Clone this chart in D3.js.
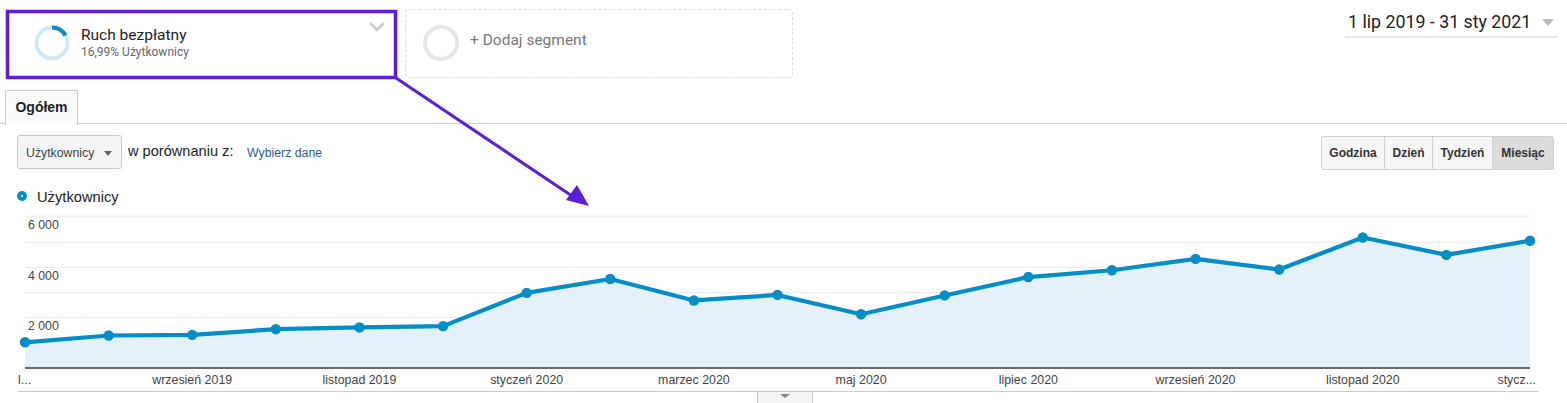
<!DOCTYPE html>
<html>
  <head>
    <meta charset="utf-8" />
    <style>
    body { margin: 0; background: #fff; }
    svg { display: block; }
    .ar { font-family: "Liberation Sans", Arial, sans-serif; }
    .rb { font-family: Roboto, "Noto Sans", sans-serif; }
    </style>
    <script src="https://cdn.jsdelivr.net/npm/d3@7"></script>
  </head>
  <body>
    <script>
    // months Jul 2019 .. Jan 2021
    var months = ["lipiec 2019", "sierpień 2019", "wrzesień 2019", "październik 2019", "listopad 2019",
      "grudzień 2019", "styczeń 2020", "luty 2020", "marzec 2020", "kwiecień 2020", "maj 2020",
      "czerwiec 2020", "lipiec 2020", "sierpień 2020", "wrzesień 2020", "październik 2020",
      "listopad 2020", "grudzień 2020", "styczeń 2021"];
    var users = [1000, 1270, 1295, 1520, 1590, 1640, 2960, 3510, 2660, 2880, 2115, 2860,
      3590, 3860, 4310, 3890, 5160, 4470, 5030];
    // label shown under every second month
    var xLabels = ["l...", "", "wrzesień 2019", "", "listopad 2019", "", "styczeń 2020", "",
      "marzec 2020", "", "maj 2020", "", "lipiec 2020", "", "wrzesień 2020", "",
      "listopad 2020", "", "stycz..."];
    var yTicks = [2000, 4000, 6000];
    var yGrid = [1000, 2000, 3000, 4000, 5000, 6000];
    var buttons = ["Godzina", "Dzień", "Tydzień", "Miesiąc"];

    var width = 1567, height = 403;
    var blue = "#058dc7";
    var purple = "#5a1fd6";

    var svg = d3.select("body").append("svg")
        .attr("width", width)
        .attr("height", height);

    // ---- segment boxes ----
    svg.append("rect").attr("x", 7.5).attr("y", 11.5).attr("width", 388).attr("height", 66)
        .attr("fill", "#fff").attr("stroke", purple).attr("stroke-width", 3.5);
    var arc = d3.arc().innerRadius(13.5).outerRadius(17.5);
    var donut = svg.append("g").attr("transform", "translate(52,43)");
    donut.append("path").attr("d", arc({startAngle: 0, endAngle: 2 * Math.PI})).attr("fill", "#cfe8f6");
    donut.append("path").attr("d", arc({startAngle: 0, endAngle: 2 * Math.PI * 0.1699})).attr("fill", blue);
    svg.append("text").attr("class", "rb").attr("x", 81).attr("y", 40)
        .attr("font-size", 15.5).attr("fill", "#222").text("Ruch bezpłatny");
    svg.append("text").attr("class", "rb").attr("x", 81).attr("y", 56)
        .attr("font-size", 12).attr("fill", "#666").text("16,99% Użytkownicy");
    svg.append("path").attr("d", "M370,23 L377,30 L384,23").attr("fill", "none")
        .attr("stroke", "#ccc").attr("stroke-width", 2.5);

    svg.append("rect").attr("x", 405.5).attr("y", 9.5).attr("width", 387).attr("height", 68).attr("rx", 3)
        .attr("fill", "none").attr("stroke", "#ddd").attr("stroke-dasharray", "3,2");
    svg.append("circle").attr("cx", 441).attr("cy", 43).attr("r", 16)
        .attr("fill", "none").attr("stroke", "#e6e6e6").attr("stroke-width", 4);
    svg.append("text").attr("class", "rb").attr("x", 470).attr("y", 45)
        .attr("font-size", 15.5).attr("fill", "#777").text("+ Dodaj segment");

    // ---- date range ----
    svg.append("text").attr("class", "rb").attr("x", 1348).attr("y", 28)
        .attr("font-size", 17.8).attr("fill", "#222").text("1 lip 2019 - 31 sty 2021");
    svg.append("path").attr("d", "M1542,19 L1554,19 L1548,26 Z").attr("fill", "#bbb");
    svg.append("line").attr("x1", 1345).attr("x2", 1558).attr("y1", 37).attr("y2", 37)
        .attr("stroke", "#e6e6e6").attr("stroke-width", 2);

    // ---- tab ----
    svg.append("line").attr("x1", 0).attr("x2", width).attr("y1", 123.5).attr("y2", 123.5)
        .attr("stroke", "#ccc");
    svg.append("rect").attr("x", 5.5).attr("y", 90.5).attr("width", 72).attr("height", 34)
        .attr("fill", "#fafafa").attr("stroke", "#ccc");
    svg.append("rect").attr("x", 6).attr("y", 122).attr("width", 71).attr("height", 3).attr("fill", "#fafafa");
    svg.append("text").attr("class", "ar").attr("x", 41.5).attr("y", 112).attr("text-anchor", "middle")
        .attr("font-size", 14).attr("font-weight", "bold").attr("fill", "#222").text("Ogółem");

    // ---- metric selector ----
    svg.append("rect").attr("x", 17.5).attr("y", 135.5).attr("width", 104).attr("height", 33).attr("rx", 2)
        .attr("fill", "#f5f5f5").attr("stroke", "#ccc");
    svg.append("text").attr("class", "ar").attr("x", 26).attr("y", 157)
        .attr("font-size", 12.3).attr("fill", "#444").text("Użytkownicy");
    svg.append("path").attr("d", "M104,151 L112,151 L108,156 Z").attr("fill", "#666");
    svg.append("text").attr("class", "ar").attr("x", 128).attr("y", 156)
        .attr("font-size", 14.6).attr("fill", "#222").text("w porównaniu z:");
    svg.append("text").attr("class", "ar").attr("x", 247).attr("y", 157)
        .attr("font-size", 12.3).attr("fill", "#1f5c99").text("Wybierz dane");

    // ---- granularity buttons ----
    var bx = [1321, 1384, 1432, 1492, 1553];
    buttons.forEach(function (b, i) {
      var sel = i === buttons.length - 1;
      svg.append("rect").attr("x", bx[i] + 0.5).attr("y", 136.5).attr("width", bx[i + 1] - bx[i]).attr("height", 33)
          .attr("rx", i === 0 || sel ? 2 : 0)
          .attr("fill", sel ? "#dcdcdc" : "#f6f6f6").attr("stroke", "#d0d0d0");
      svg.append("text").attr("class", "ar").attr("x", (bx[i] + bx[i + 1]) / 2 + 0.5).attr("y", 157)
          .attr("text-anchor", "middle").attr("font-size", 12).attr("font-weight", "bold")
          .attr("fill", "#333").text(b);
    });

    // ---- legend ----
    svg.append("circle").attr("cx", 22).attr("cy", 196).attr("r", 5).attr("fill", blue);
    svg.append("circle").attr("cx", 22).attr("cy", 196).attr("r", 1).attr("fill", "#fff");
    svg.append("text").attr("class", "ar").attr("x", 37).attr("y", 202)
        .attr("font-size", 14.7).attr("fill", "#222").text("Użytkownicy");

    // ---- chart ----
    var x = d3.scalePoint().domain(months).range([25, 1530]);
    var y = d3.scaleLinear().domain([0, 6000]).range([367.5, 216.3]);

    svg.append("g").selectAll("line").data(yGrid).join("line")
        .attr("x1", 25).attr("x2", 1530)
        .attr("y1", function (d) { return Math.round(y(d)) + 0.5; })
        .attr("y2", function (d) { return Math.round(y(d)) + 0.5; })
        .attr("stroke", function (d) { return d === 6000 ? "#f2f2f2" : "#ececec"; })
        .attr("stroke-width", function (d) { return d === 6000 ? 2 : 1; });

    var data = months.map(function (m, i) { return {m: m, v: users[i]}; });

    svg.append("path").datum(data)
        .attr("fill", "#e4f1f9")
        .attr("d", d3.area().x(function (d) { return x(d.m); })
          .y0(y(0)).y1(function (d) { return y(d.v); }));

    svg.append("g").selectAll("text").data(yTicks).join("text")
        .attr("class", "ar").attr("x", 28).attr("y", function (d) { return y(d) + 13; })
        .attr("font-size", 12.3).attr("fill", "#444")
        .text(function (d) { return d3.format(",")(d).replace(",", " "); });

    svg.append("line").attr("x1", 25).attr("x2", 1530).attr("y1", 368).attr("y2", 368)
        .attr("stroke", "#6b6b6b").attr("stroke-width", 2);

    svg.append("path").datum(data)
        .attr("fill", "none").attr("stroke", blue).attr("stroke-width", 4.2)
        .attr("stroke-linejoin", "round")
        .attr("d", d3.line().x(function (d) { return x(d.m); }).y(function (d) { return y(d.v); }));

    svg.append("g").selectAll("circle").data(data).join("circle")
        .attr("cx", function (d) { return x(d.m); })
        .attr("cy", function (d) { return y(d.v); })
        .attr("r", 5.2).attr("fill", blue);

    svg.append("g").selectAll("text").data(months).join("text")
        .attr("class", "ar")
        .attr("x", function (d, i) { return i === 0 ? 18 : (i === months.length - 1 ? 1536 : x(d)); })
        .attr("y", 384)
        .attr("text-anchor", function (d, i) { return i === 0 ? "start" : (i === months.length - 1 ? "end" : "middle"); })
        .attr("font-size", 12.4).attr("fill", "#444")
        .text(function (d, i) { return xLabels[i]; });

    svg.append("line").attr("x1", 18).attr("x2", 1538).attr("y1", 391.5).attr("y2", 391.5)
        .attr("stroke", "#ccc");
    svg.append("rect").attr("x", 757.5).attr("y", 391.5).attr("width", 55).attr("height", 12)
        .attr("fill", "#f4f4f4").attr("stroke", "#ccc");
    svg.append("path").attr("d", "M780,394 L790,394 L785,398 Z").attr("fill", "#888");

    // ---- annotation arrow ----
    svg.append("line").attr("x1", 396).attr("y1", 78).attr("x2", 578).attr("y2", 200)
        .attr("stroke", purple).attr("stroke-width", 3);
    svg.append("path").attr("d", "M589,206 L566,200 L577,185 Z").attr("fill", purple);
    </script>
  </body>
</html>
